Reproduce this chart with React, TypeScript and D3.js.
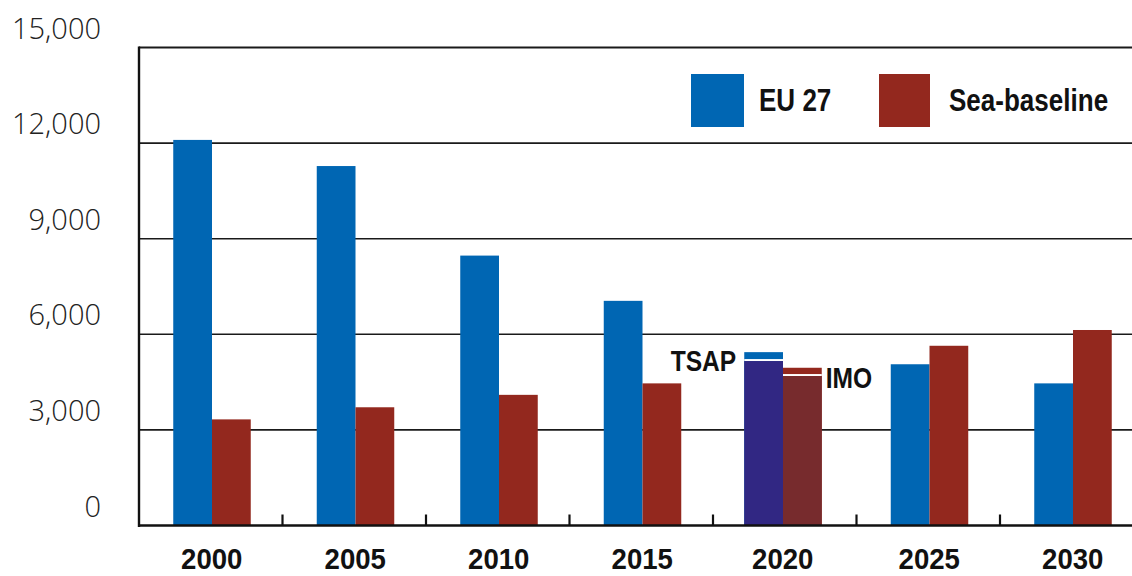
import * as d3 from "d3";

const years = ["2000", "2005", "2010", "2015", "2020", "2025", "2030"];
const eu27 = [12100, 11280, 8470, 7050, 5160, 5060, 4460];
const seaBaseline = [3330, 3710, 4100, 4460, 4690, 5640, 6135];
// 2020 targets drawn on top of the 2020 bars
const tsapTarget = 5440;
const imoTarget = 4950;
const yTicks = [0, 3000, 6000, 9000, 12000, 15000];
const seriesKeys = ["eu", "sea"];
const seriesNames = ["EU 27", "Sea-baseline"];

const BLUE = "#0066b3";
const RED = "#93281e";
const PURPLE = "#312783";
const MAROON = "#772b2d";

const boldFont = "'Liberation Sans', Arial, sans-serif";
const light = "'Open Sans', 'Liberation Sans', sans-serif";

// bold text squeezed horizontally, the reference uses a condensed face
function Narrow(props: { x: number; y: number; anchor?: string; size: number; sx?: number; children: any }) {
  return (
    <text transform={`translate(${props.x},${props.y}) scale(${props.sx || 0.82},1)`} textAnchor={props.anchor || "start"}
      fontFamily={boldFont} fontWeight="bold" fontSize={props.size} fill="#111">{props.children}</text>
  );
}

export default function App() {
  const width = 1132;
  const height = 576;
  const left = 139;
  const bottom = 525.5;
  const top = 47.5;

  const x = d3.scaleBand().domain(years).range([left, left + 7 * 143.5]).padding(0);
  const bw = x.bandwidth();
  const x1 = d3.scaleBand().domain(seriesKeys).range([bw / 2 - 37.5, bw / 2 + 40]).padding(0);
  const y = d3.scaleLinear().domain([0, 15000]).range([bottom, top]);

  const euColor = (yr: string) => (yr === "2020" ? PURPLE : BLUE);
  const seaColor = (yr: string) => (yr === "2020" ? MAROON : RED);

  return (
    <svg width={width} height={height} style={{ position: "absolute", left: 0, top: 0, background: "#fff" }}>
      {/* gridlines */}
      {yTicks.slice(1).map(t => (
        <line key={t} x1={left} x2={width} y1={y(t)} y2={y(t)} stroke="#1a1a1a"
          strokeWidth={t === 15000 ? 2.2 : 1.6} />
      ))}
      {/* y labels */}
      {yTicks.map(t => (
        <text key={"l" + t} x={101} y={y(t) - 9} textAnchor="end" fontFamily={light} fontWeight={300}
          fontSize={29} fill="#222">{d3.format(",")(t)}</text>
      ))}

      {/* bars */}
      {years.map((yr, i) => {
        const gx = x(yr)! - (yr === "2020" ? 3 : 0);
        return (
          <g key={yr} transform={`translate(${gx},0)`}>
            {yr === "2020" && (
              <>
                <rect x={x1("eu")} width={x1.bandwidth()} y={y(tsapTarget)} height={bottom - y(tsapTarget)} fill={BLUE} />
                <rect x={x1("sea")} width={x1.bandwidth()} y={y(imoTarget)} height={bottom - y(imoTarget)} fill={RED} />
                <rect x={x1("eu")} width={x1.bandwidth()} y={y(eu27[i]) - 2} height={2} fill="#fff" />
                <rect x={x1("sea")} width={x1.bandwidth()} y={y(seaBaseline[i]) - 2} height={2} fill="#fff" />
              </>
            )}
            <rect x={x1("eu")} width={x1.bandwidth()} y={y(eu27[i])} height={bottom - y(eu27[i])} fill={euColor(yr)} />
            <rect x={x1("sea")} width={x1.bandwidth()} y={y(seaBaseline[i])} height={bottom - y(seaBaseline[i])} fill={seaColor(yr)} />
          </g>
        );
      })}

      {/* target labels */}
      <Narrow x={x("2020")! - 3 + x1("eu")! - 8} y={y(tsapTarget) + 19} anchor="end" size={30}>TSAP</Narrow>
      <Narrow x={x("2020")! - 3 + x1("sea")! + x1.bandwidth() + 4} y={y(imoTarget) + 20} size={30}>IMO</Narrow>

      {/* axes */}
      <line x1={left} x2={left} y1={top - 1} y2={bottom + 1.5} stroke="#111" strokeWidth={2.4} />
      <line x1={left - 1} x2={width} y1={bottom} y2={bottom} stroke="#111" strokeWidth={2.6} />
      {years.slice(1).map(yr => (
        <line key={"t" + yr} x1={x(yr)} x2={x(yr)} y1={bottom} y2={bottom - 11} stroke="#111" strokeWidth={2.2} />
      ))}
      {years.map(yr => (
        <Narrow key={"x" + yr} x={x(yr)! + bw / 2 + 1 - (yr === "2020" ? 3 : 0)} y={569} anchor="middle" size={30} sx={0.92}>{yr}</Narrow>
      ))}

      {/* legend */}
      {seriesNames.map((name, k) => {
        const lx = k === 0 ? 691 : 879;
        return (
          <g key={name}>
            <rect x={lx} y={74} width={k === 0 ? 53 : 51} height={53} fill={k === 0 ? BLUE : RED} />
            <Narrow x={lx + (k === 0 ? 68 : 70)} y={111} size={31} sx={0.84}>{name}</Narrow>
          </g>
        );
      })}
    </svg>
  );
}
